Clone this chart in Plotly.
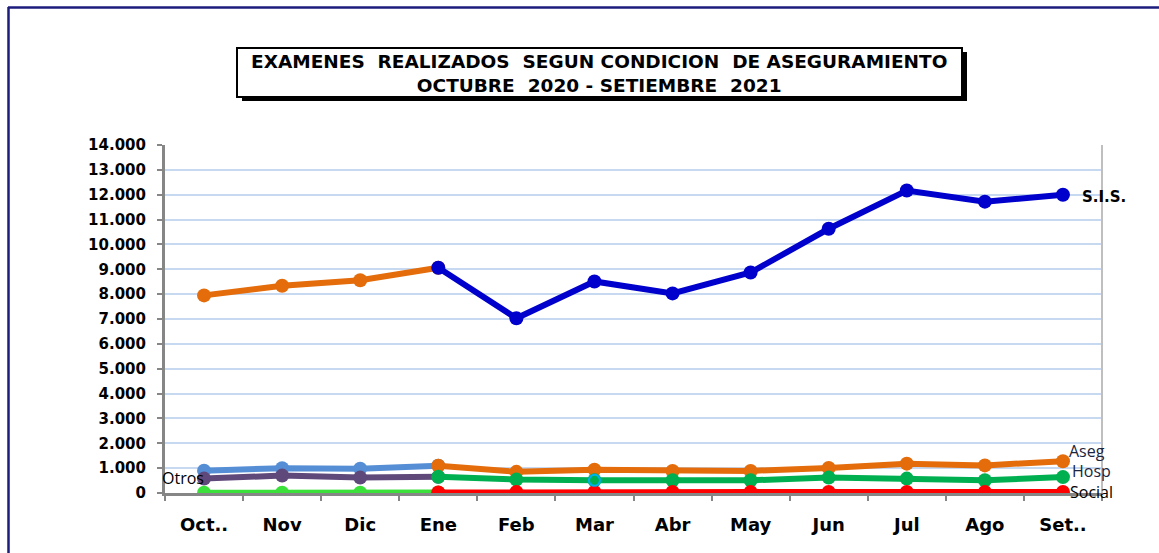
import plotly.graph_objects as go

# ---------------- data ----------------
months = ["Oct..", "Nov", "Dic", "Ene", "Feb", "Mar", "Abr", "May", "Jun", "Jul", "Ago", "Set.."]
sis_values = [7950, 8340, 8560, 9060, 7030, 8510, 8030, 8870, 10630, 12170, 11720, 12000]
aseg_values = [900, 1000, 980, 1100, 850, 940, 890, 890, 1010, 1180, 1110, 1280]
hosp_values = [580, 700, 620, 650, 540, 510, 510, 510, 620, 580, 510, 640]
social_values = [10, 10, 10, 20, 40, 40, 40, 40, 40, 40, 40, 40]
series_names = ["S.I.S.", "Aseg", "Hosp", "Social"]
title_lines = ["EXAMENES  REALIZADOS  SEGUN CONDICION  DE ASEGURAMIENTO",
               "OCTUBRE  2020 - SETIEMBRE  2021"]
split = 3  # colour scheme changes at "Ene"

colors_first = ["#E46C0A", "#558ED5", "#5F497A", "#3BE03B"]
colors_second = ["#0000CC", "#E46C0A", "#00B050", "#FF0000"]
all_values = [sis_values, aseg_values, hosp_values, social_values]

W, H = 1159, 553
L, R, T, B = 165, 1102, 145, 493


def px(x):
    return (x - L) / (R - L)


def py(y):
    return (B - y) / (B - T)


fig = go.Figure()

# first segment (Oct..Ene)
for name, vals, col in zip(series_names, all_values, colors_first):
    fig.add_trace(go.Scatter(
        x=months[:split + 1], y=vals[:split + 1], mode="lines+markers",
        line=dict(color=col, width=6), marker=dict(color=col, size=14),
        name=name, showlegend=False, hoverinfo="skip"))

# second segment (Ene..Set)
for name, vals, col in zip(series_names, all_values, colors_second):
    fig.add_trace(go.Scatter(
        x=months[split:], y=vals[split:], mode="lines+markers",
        line=dict(color=col, width=6), marker=dict(color=col, size=14),
        name=name, showlegend=False, hoverinfo="skip"))

# small hollow marker on Hosp at Mar
fig.add_trace(go.Scatter(
    x=[months[5]], y=[hosp_values[5]], mode="markers",
    marker=dict(symbol="circle-open", color="#00B0F0", size=11, line=dict(width=2)),
    showlegend=False, hoverinfo="skip"))

label_font = dict(family="Open Sans, Liberation Sans, sans-serif", size=16, color="#1a2540")
black_font = dict(family="Open Sans, Liberation Sans, sans-serif", size=16, color="black")
annotations = [
    dict(x=months[-1], y=sis_values[-1], xref="x", yref="y", text="<b>S.I.S.</b>",
         showarrow=False, xanchor="left", xshift=17, yshift=-2,
         font=dict(family="DejaVu Sans, sans-serif", size=15, color="black")),
    dict(x=months[-1], y=aseg_values[-1], xref="x", yref="y", text="Aseg",
         showarrow=False, xanchor="left", xshift=4, yshift=10, font=label_font),
    dict(x=months[-1], y=hosp_values[-1], xref="x", yref="y", text="Hosp",
         showarrow=False, xanchor="left", xshift=7, yshift=6, font=label_font),
    dict(x=months[-1], y=social_values[-1], xref="x", yref="y", text="Social",
         showarrow=False, xanchor="left", xshift=5, yshift=0, font=black_font),
    dict(x=months[0], y=hosp_values[0], xref="x", yref="y", text="Otros",
         showarrow=False, xanchor="right", xshift=2, yshift=1, font=black_font),
    dict(x=px(599), y=py(73), xref="paper", yref="paper",
         text="<br>".join("<b>" + t.replace("  ", "\u00a0 ") + "</b>" for t in title_lines),
         showarrow=False, xanchor="center", yanchor="middle",
         font=dict(family="DejaVu Sans, sans-serif", size=18.5, color="black")),
]

shapes = [
    # outer frame (top and left)
    dict(type="line", xref="paper", yref="paper", x0=px(8), x1=px(1162), y0=py(7.5), y1=py(7.5),
         line=dict(color="#1C1C7C", width=2.5)),
    dict(type="line", xref="paper", yref="paper", x0=px(8.5), x1=px(8.5), y0=py(7), y1=py(556),
         line=dict(color="#1C1C7C", width=2.5)),
    # title box shadow
    dict(type="rect", xref="paper", yref="paper", x0=px(242), x1=px(967), y0=py(52), y1=py(101),
         line=dict(color="black", width=0), fillcolor="black"),
    # title box
    dict(type="rect", xref="paper", yref="paper", x0=px(237), x1=px(962), y0=py(48), y1=py(97),
         line=dict(color="black", width=2), fillcolor="white"),
    # right border of plot area
    dict(type="line", xref="paper", yref="paper", x0=1, x1=1, y0=0, y1=1,
         line=dict(color="#BFBFBF", width=2)),
]

fig.update_layout(
    width=W, height=H, autosize=False,
    margin=dict(l=L, r=W - R, t=T, b=H - B, pad=0),
    paper_bgcolor="white", plot_bgcolor="white",
    separators=",.",
    showlegend=False,
    annotations=annotations,
    shapes=shapes,
    xaxis=dict(
        type="category", categoryorder="array", categoryarray=months,
        range=[-0.5, len(months) - 0.5],
        showgrid=False, zeroline=False,
        showline=True, linecolor="#868686", linewidth=3,
        ticks="outside", tickson="boundaries", ticklen=5, tickwidth=2, tickcolor="#868686",
        ticklabelstandoff=13,
        tickfont=dict(family="DejaVu Sans, sans-serif", size=18, color="black", weight="bold"),
    ),
    yaxis=dict(
        range=[0, 14000], dtick=1000, tick0=0, tickformat=",d",
        showgrid=True, gridcolor="#C6D9F1", gridwidth=2, zeroline=False,
        showline=True, linecolor="#868686", linewidth=3,
        ticks="outside", ticklen=5, tickwidth=2, tickcolor="#868686",
        ticklabelstandoff=8,
        tickfont=dict(family="DejaVu Sans, sans-serif", size=15, color="black", weight="bold"),
    ),
)

fig.write_html("out.html", config={"displayModeBar": False},
               post_script="document.body.style.margin='0';")
